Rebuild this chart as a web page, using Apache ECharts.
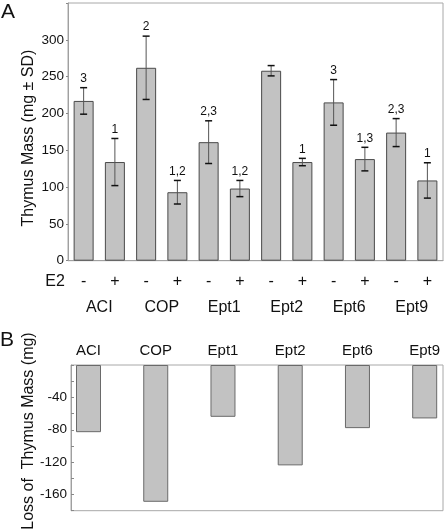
<!DOCTYPE html>
<html><head><meta charset="utf-8">
<script src="https://cdn.jsdelivr.net/npm/echarts@6/dist/echarts.min.js"></script>
<style>html,body{margin:0;padding:0;background:#fff}#c{width:448px;height:531px}</style>
</head><body><div id="c"></div>
<script>
// Panel A data
const groups = ['ACI','COP','Ept1','Ept2','Ept6','Ept9'];
const e2Signs = ['-','+','-','+','-','+','-','+','-','+','-','+'];
const massMean = [217,134,262,93,161,98,258,134,215,138,174,109];
const massSD   = [18,32,43,16,29,11,7,5,31,16,19,24];
const sigLabels = ['3','1','2','1,2','2,3','1,2','','1','3','1,3','2,3','1'];
const yTicksA = [0,50,100,150,200,250,300];
// Panel B data
const lossValues = [-83,-169,-64,-124,-78,-66];
const yTicksB = [-40,-80,-120,-160];

const FONT = 'Liberation Sans, Arial, sans-serif';
const chart = echarts.init(document.getElementById('c'), null, {renderer:'canvas'});
const barStyle = {color:'#c2c2c2', borderColor:'#4a4a4a', borderWidth:1};

const option = {
  animation:false,
  textStyle:{fontFamily:FONT},
  grid:[
    {left:68, top:3, width:375, height:257.7, show:true, borderColor:'#a8a8a8', borderWidth:1},
    {left:71, top:365, width:372, height:145.7, show:true, borderColor:'#a8a8a8', borderWidth:1},
    {left:88.5, top:365, right:23.3, height:145.7}
  ],
  xAxis:[
    {type:'category', gridIndex:0, data:e2Signs, boundaryGap:true,
     axisLine:{show:true, lineStyle:{color:'#a0a0a0'}}, axisTick:{show:false},
     axisLabel:{color:'#111', fontSize:16, margin:13, fontFamily:FONT, interval:0}},
    {type:'category', gridIndex:0, data:groups, position:'bottom', offset:26,
     axisLine:{show:false}, axisTick:{show:false},
     axisLabel:{color:'#111', fontSize:16, margin:13, fontFamily:FONT, interval:0}},
    {type:'category', gridIndex:1, data:groups, show:false},
    {type:'category', gridIndex:2, data:groups, boundaryGap:false, position:'top',
     axisLine:{show:false}, axisTick:{show:false},
     axisLabel:{color:'#111', fontSize:15, margin:7, fontFamily:FONT, interval:0}}
  ],
  yAxis:[
    {type:'value', gridIndex:0, min:0, max:350, interval:50, splitLine:{show:false},
     axisLine:{show:true, lineStyle:{color:'#a0a0a0'}},
     axisTick:{show:true, length:2, lineStyle:{color:'#888'}},
     axisLabel:{color:'#111', fontSize:13.5, margin:4, fontFamily:FONT,
       formatter:v => yTicksA.indexOf(v) >= 0 ? String(v) : ''}},
    {type:'value', gridIndex:1, min:-180, max:0, interval:20, splitLine:{show:false},
     axisLine:{show:true, lineStyle:{color:'#a0a0a0'}},
     axisTick:{show:true, inside:true, length:3, lineStyle:{color:'#888'}},
     axisLabel:{color:'#111', fontSize:13.5, margin:4, fontFamily:FONT,
       formatter:v => yTicksB.indexOf(v) >= 0 ? String(v) : ''}},
    {type:'value', gridIndex:2, min:-180, max:0, show:false}
  ],
  series:[
    {type:'bar', xAxisIndex:0, yAxisIndex:0, data:massMean, barWidth:20, itemStyle:barStyle, z:2},
    {type:'custom', xAxisIndex:0, yAxisIndex:0, z:5,
     data:massMean.map((m,i)=>[i, m, massSD[i]]),
     renderItem:(params, api)=>{
       const i = api.value(0), m = api.value(1), sd = api.value(2);
       const hi = api.coord([i, m+sd]), lo = api.coord([i, m-sd]);
       const x = hi[0], hw = 3.5;
       const children = [
         {type:'line', shape:{x1:x, y1:hi[1], x2:x, y2:lo[1]}, style:{stroke:'#555', lineWidth:1}},
         {type:'line', shape:{x1:x-hw, y1:hi[1], x2:x+hw, y2:hi[1]}, style:{stroke:'#111', lineWidth:1.5}},
         {type:'line', shape:{x1:x-hw, y1:lo[1], x2:x+hw, y2:lo[1]}, style:{stroke:'#111', lineWidth:1.5}}
       ];
       const lab = sigLabels[i];
       if (lab) children.push({type:'text', x:x, y:hi[1]-3,
         style:{text:lab, fill:'#111', font:'12px '+FONT, align:'center', verticalAlign:'bottom'}});
       return {type:'group', children};
     }},
    {type:'bar', xAxisIndex:3, yAxisIndex:2, data:lossValues, barWidth:25,
     itemStyle:{color:'#c2c2c2', borderColor:'#6a6a6a', borderWidth:1}}
  ],
  graphic:[
    {type:'text', left:1, top:2, style:{text:'A', font:'21px '+FONT, fill:'#111'}},
    {type:'text', left:0, top:330, style:{text:'B', font:'21px '+FONT, fill:'#111'}},
    {type:'text', x:55, y:282, style:{text:'E2', font:'16px '+FONT, fill:'#111', align:'center', verticalAlign:'middle'}},
    {type:'text', x:28.5, y:138, rotation:Math.PI/2,
     style:{text:'Thymus Mass (mg ± SD)', font:'16px '+FONT, fill:'#111', align:'center', verticalAlign:'middle'}},
    {type:'text', x:29, y:431, rotation:Math.PI/2,
     style:{text:'Loss of  Thymus Mass (mg)', font:'16px '+FONT, fill:'#111', align:'center', verticalAlign:'middle'}}
  ]
};
chart.setOption(option);
</script></body></html>
